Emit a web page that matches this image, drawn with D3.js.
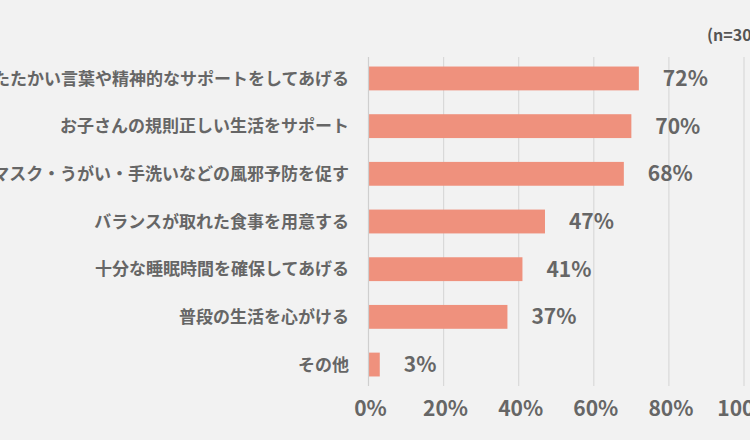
<!DOCTYPE html>
<html lang="ja">
<head>
<meta charset="UTF-8" />
<title>子どもの健康のためにしていること</title>
<script src="https://cdnjs.cloudflare.com/ajax/libs/d3/7.8.5/d3.min.js"></script>
<style>
  html, body { margin: 0; padding: 0; background: #f2f2f2; overflow: hidden; }
  text { font-family: "Noto Sans CJK JP", "Noto Sans", sans-serif; }
</style>
</head>
<body>
<div id="chart"></div>
<script>
// data
const categories = [
  "あたたかい言葉や精神的なサポートをしてあげる",
  "お子さんの規則正しい生活をサポート",
  "マスク・うがい・手洗いなどの風邪予防を促す",
  "バランスが取れた食事を用意する",
  "十分な睡眠時間を確保してあげる",
  "普段の生活を心がける",
  "その他"
];
const values = [72, 70, 68, 47, 41, 37, 3];
const ticks = [0, 20, 40, 60, 80, 100];
const note = "(n=300)";

const width = 750, height = 440;
const margin = { top: 57, right: 6, bottom: 54, left: 368.5 };

const svg = d3.select("#chart").append("svg")
  .attr("width", width)
  .attr("height", height)
  .style("display", "block");

svg.append("rect").attr("width", width).attr("height", height).attr("fill", "#f2f2f2");

const x = d3.scaleLinear().domain([0, 100]).range([margin.left, 744]);
const y = d3.scaleBand().domain(categories)
  .range([margin.top, height - margin.bottom])
  .paddingInner(0.5).paddingOuter(0.2);

// grid lines
svg.append("g").selectAll("line")
  .data(ticks.filter(d => d > 0))
  .join("line")
  .attr("x1", d => x(d)).attr("x2", d => x(d))
  .attr("y1", margin.top).attr("y2", height - margin.bottom)
  .attr("stroke", "#d9d9d9").attr("stroke-width", 1.2);

// bars
svg.append("g").selectAll("rect")
  .data(values)
  .join("rect")
  .attr("x", x(0))
  .attr("y", (d, i) => y(categories[i]))
  .attr("width", d => x(d) - x(0))
  .attr("height", y.bandwidth())
  .attr("fill", "#ef917d");

// zero axis
svg.append("line")
  .attr("x1", x(0)).attr("x2", x(0))
  .attr("y1", margin.top).attr("y2", height - margin.bottom)
  .attr("stroke", "#cfcfcf").attr("stroke-width", 1.2);

// value labels
svg.append("g").selectAll("text")
  .data(values)
  .join("text")
  .attr("x", d => x(d) + 24)
  .attr("y", (d, i) => y(categories[i]) + y.bandwidth() / 2)
  .attr("dy", "0.36em")
  .attr("fill", "#666")
  .attr("font-size", 21)
  .attr("font-weight", "bold")
  .text(d => d + "%");

// category labels
svg.append("g").selectAll("text")
  .data(categories)
  .join("text")
  .attr("x", 349)
  .attr("y", d => y(d) + y.bandwidth() / 2)
  .attr("dy", "0.36em")
  .attr("text-anchor", "end")
  .attr("fill", "#666")
  .attr("font-size", 17)
  .attr("font-weight", "bold")
  .text(d => d);

// x axis tick labels
svg.append("g").selectAll("text")
  .data(ticks)
  .join("text")
  .attr("x", d => x(d) + 2)
  .attr("y", 408)
  .attr("dy", "0.36em")
  .attr("text-anchor", "middle")
  .attr("fill", "#666")
  .attr("font-size", 21)
  .attr("font-weight", "bold")
  .text(d => d + "%");

svg.append("text")
  .attr("x", 707).attr("y", 35)
  .attr("dy", "0.36em")
  .attr("fill", "#555")
  .attr("font-size", 16)
  .attr("font-weight", "bold")
  .text(note);
</script>
</body>
</html>
